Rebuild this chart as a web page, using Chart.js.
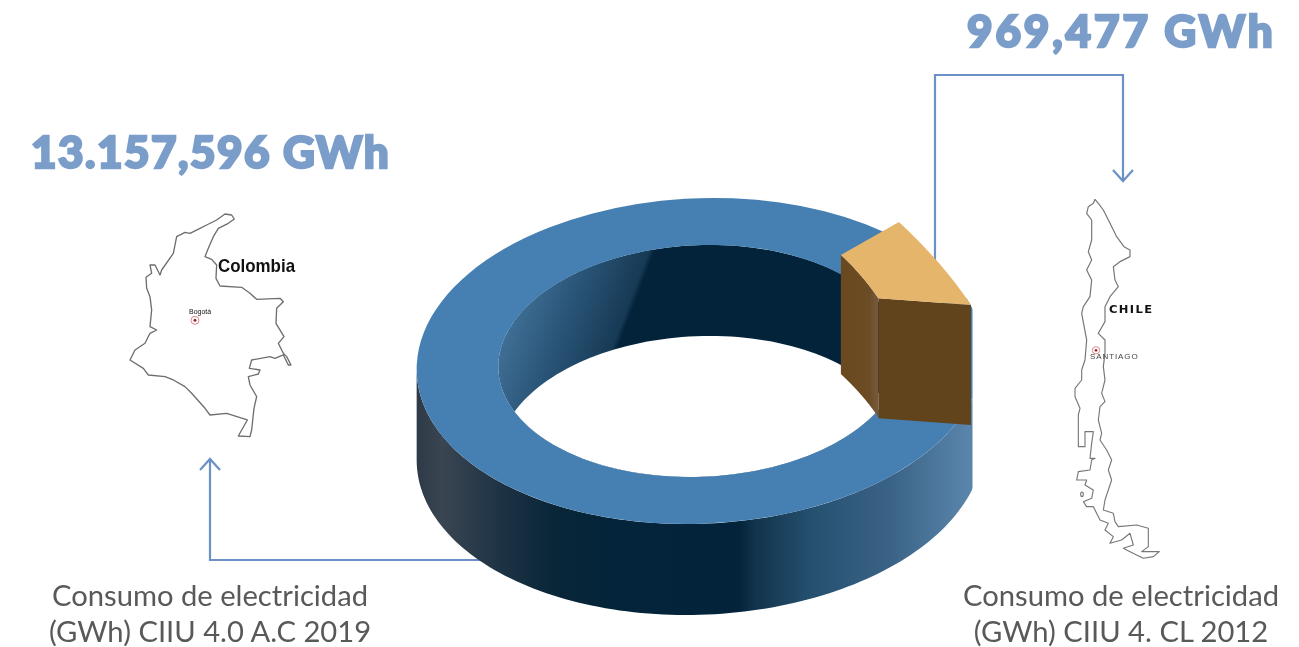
<!DOCTYPE html>
<html lang="es">
<head>
<meta charset="utf-8">
<title>Consumo de electricidad</title>
<script src="https://cdn.jsdelivr.net/npm/chart.js@4/dist/chart.umd.min.js"></script>
<style>
  html, body { margin: 0; background: #fff; overflow: hidden; }
  #stage { position: relative; width: 1299px; height: 647px; }
  #stage svg, #stage canvas { position: absolute; left: 0; top: 0; }
  .total, .caption, .tag { position: absolute; white-space: nowrap; }
  .total { font: 900 44px Lato, sans-serif; color: #7b9dc9; -webkit-text-stroke: 2.4px #7b9dc9; line-height: 50px; }
  .caption { font: 400 29.2px Lato, sans-serif; color: #595959; line-height: 36px; text-align: center; }
  .tag { color: #111; transform-origin: left top; }
</style>
</head>
<body>
<div id="stage">
  <svg width="1299" height="647" fill="none">
    <g stroke="#6b91c6" stroke-width="2.2">
      <polyline points="935,285 935,75 1123,75 1123,180"/>
      <polyline points="1113,170 1123,181 1133,170"/>
      <polyline points="490,560 210,560 210,459"/>
      <polyline points="200,470 210,459 220,470"/>
    </g>
    <g transform="translate(110 200) scale(0.3333)" stroke="#6e6e6e" stroke-width="4" stroke-linejoin="round">
      <polygon points="345,42 365,45 373,57 355,70 325,85 310,110 295,145 285,170 305,178 320,195 318,235 330,258 395,262 420,280 440,298 510,295 520,305 500,325 498,370 522,410 505,430 520,460 530,470 543,495 535,495 520,465 495,475 480,470 425,480 418,505 450,510 445,522 415,530 420,555 440,590 432,625 425,690 420,710 385,708 412,660 350,640 300,645 285,625 245,580 225,560 190,540 165,530 115,525 100,505 60,480 75,450 105,430 120,400 140,390 120,380 125,330 120,290 110,265 108,232 125,220 120,195 135,195 150,225 155,210 190,160 200,110 225,97 240,100 270,85 290,75 320,60"/>
      <circle cx="255" cy="361" r="12" stroke="#d98a8a" stroke-width="3"/>
      <circle cx="255" cy="361" r="4.5" fill="#a8202a" stroke="none"/>
    </g>
    <g transform="translate(1050 190) scale(0.3333)" stroke="#777" stroke-width="3.6" stroke-linejoin="round">
      <polyline points="135,28 145,40 160,60 180,100 200,140 222,170 240,180 240,200 210,215 190,230 195,270 205,290 180,320 165,350 165,395 145,430 165,450 165,490 160,530 165,570"/>
      <polyline points="95,540 105,510 110,450 95,370 100,350 120,320 125,270 110,240 125,210 115,185 125,150 125,90 110,70 115,50 130,40 135,28"/>
      <circle cx="138" cy="481" r="11" stroke="#d98a8a" stroke-width="3"/>
      <circle cx="138" cy="481" r="4" fill="#a8202a" stroke="none"/>
    </g>
    <g transform="translate(1050 370) scale(0.3333)" stroke="#777" stroke-width="3.4" stroke-linejoin="round">
      <polyline points="165,30 155,70 165,95 150,110 145,150 155,190 150,210 170,240 185,270 175,300 185,330 165,390 160,420 190,430 195,455 205,470 260,465 295,475 295,530 275,545 328,545 310,560 280,565 240,545 220,535 250,525 240,490 215,510 180,520 190,500 165,480 175,460 150,450 130,410 110,410 100,395 125,385 130,360 105,345 110,330 80,330 85,305 120,300 125,270 135,265 120,265 125,220 130,185 105,185 105,230 85,230 85,135 90,115 75,80 75,55 95,30 95,0"/>
      <ellipse cx="96" cy="373" rx="4" ry="7"/>
    </g>
  </svg>
  <canvas id="ringChart" width="1299" height="647"></canvas>
  <div class="total" style="left:967px;top:5px;letter-spacing:2.9px">969,477 GWh</div>
  <div class="total" style="left:31px;top:126px;letter-spacing:1.5px">13.157,596 GWh</div>
  <div class="caption" style="left:20px;top:577px;width:380px">Consumo de electricidad<br>(GWh) CIIU 4.0 A.C 2019</div>
  <div class="caption" style="left:931px;top:577px;width:380px">Consumo de electricidad<br>(GWh) CIIU 4. CL 2012</div>
  <div class="tag" style="left:218px;top:255px;font:bold 19px 'Liberation Sans',sans-serif;transform:scaleX(.89)">Colombia</div>
  <div class="tag" style="left:189px;top:308px;font:7px 'Liberation Sans',sans-serif">Bogotá</div>
  <div class="tag" style="left:1109px;top:304px;font:bold 10px 'DejaVu Sans',sans-serif;letter-spacing:1.2px;transform:scaleX(1.15)">CHILE</div>
  <div class="tag" style="left:1090px;top:352px;font:8px 'Liberation Sans',sans-serif;color:#444;letter-spacing:.9px">SANTIAGO</div>
</div>

<script>
const categories = ['Colombia 2019', 'Chile 2012'];
const consumptionGWh = [13157.596, 969.477];
const sliceColors = ['#4680b3', '#e4b56b'];

// the flat doughnut is laid over on its side: circle -> page matrices
const ringView = { xx: 283, xy: -14, yx: 0, yy: 163, ox: 700, oy: 361 };
const wedgeView = { xx: 228.2, xy: 45.8, yx: 88.3, yy: 175.2, ox: 778, oy: 291 };
const ringDepth = 91;
const wedgeDepth = 119;
const wedgeInner = 0.52;
const rightEdge = 972.5;

function toPage(view, angle, r) {
    const u = Math.cos(angle) * r, v = Math.sin(angle) * r;
    return [view.ox + view.xx * u + view.xy * v, view.oy + view.yx * u + view.yy * v];
}

function band(ctx, view, r, from, to, depth) {
    ctx.beginPath();
    for (let i = 0; i <= 120; i++) {
        const p = toPage(view, from + (to - from) * i / 120, r);
        ctx.lineTo(p[0], p[1]);
    }
    for (let i = 120; i >= 0; i--) {
        const p = toPage(view, from + (to - from) * i / 120, r);
        ctx.lineTo(p[0], p[1] + depth);
    }
    ctx.closePath();
}

function ellipse(ctx, view, r, shift) {
    ctx.beginPath();
    for (let i = 0; i < 180; i++) {
        const p = toPage(view, i / 180 * Math.PI * 2, r);
        ctx.lineTo(p[0], p[1] + shift);
    }
    ctx.closePath();
}

function gradient(ctx, x0, y0, x1, y1, stops) {
    const g = ctx.createLinearGradient(x0, y0, x1, y1);
    stops.forEach(s => g.addColorStop(s[0], s[1]));
    return g;
}

function drawArc(ctx, arc, view) {
    const R = arc.outerRadius;
    ctx.save();
    ctx.transform(view.xx / R, view.yx / R, view.xy / R, view.yy / R,
        view.ox - (view.xx * arc.x + view.xy * arc.y) / R,
        view.oy - (view.yx * arc.x + view.yy * arc.y) / R);
    arc.draw(ctx);
    ctx.restore();
}

const ringSolid = {
    id: 'ringSolid',
    beforeDatasetsDraw(chart) {
        const ctx = chart.ctx;
        const arcs = chart.getDatasetMeta(0).data;
        const wedge = arcs[1];
        const inner = arcs[0].innerRadius / arcs[0].outerRadius;

        ctx.save();
        ctx.beginPath();
        ctx.rect(0, 0, rightEdge, 647);
        ctx.clip();

        // outside wall, between the two side extremes of the ellipse
        const lean = Math.atan2(-ringView.xy, ringView.xx);
        band(ctx, ringView, 1, -lean, Math.PI - lean, ringDepth);
        ctx.fillStyle = gradient(ctx, 417, 0, 972, 0, [
            [0, '#2e3a47'], [0.045, '#3a4552'], [0.15, '#1d3345'], [0.24, '#0a2638'],
            [0.36, '#03243a'], [0.58, '#02233a'], [0.61, '#12344c'], [0.71, '#25506f'],
            [0.85, '#3a6286'], [1, '#5b86ac']
        ]);
        ctx.fill();

        // inside wall, seen through the hole
        ellipse(ctx, ringView, inner, 0);
        ctx.fillStyle = gradient(ctx, 510, 252, 636, 300, [
            [0, '#4a7ba3'], [0.55, '#2a5578'], [0.96, '#173a55'], [1, '#02233a']
        ]);
        ctx.fill();
        ctx.save();
        ellipse(ctx, ringView, inner, 0);
        ctx.clip();
        ellipse(ctx, ringView, inner, ringDepth);
        ctx.fillStyle = '#fff';
        ctx.fill();
        ctx.restore();

        drawArc(ctx, arcs[0], ringView);

        // raised slice: inner side, front, then the top
        band(ctx, wedgeView, wedgeInner, wedge.startAngle, wedge.endAngle, wedgeDepth);
        ctx.fillStyle = gradient(ctx, 843, 0, 876, 0, [[0, '#6a4920'], [0.8, '#6c4c24'], [1, '#735839']]);
        ctx.fill();
        const a = toPage(wedgeView, wedge.endAngle, wedgeInner);
        const b = toPage(wedgeView, wedge.endAngle, 1);
        ctx.beginPath();
        ctx.moveTo(a[0], a[1]);
        ctx.lineTo(b[0], b[1]);
        ctx.lineTo(b[0], b[1] + wedgeDepth + 1);
        ctx.lineTo(a[0], a[1] + wedgeDepth + 1);
        ctx.closePath();
        ctx.fillStyle = '#61431c';
        ctx.fill();

        wedge.innerRadius = wedge.outerRadius * wedgeInner;
        drawArc(ctx, wedge, wedgeView);

        ctx.restore();
        return false;
    }
};

new Chart(document.getElementById('ringChart'), {
    type: 'doughnut',
    data: {
        labels: categories,
        datasets: [{
            data: consumptionGWh,
            backgroundColor: sliceColors,
            borderWidth: 0
        }]
    },
    options: {
        responsive: false,
        animation: false,
        cutout: '71.2%',
        rotation: 67.35,
        plugins: {
            legend: { display: false },
            tooltip: { enabled: false }
        }
    },
    plugins: [ringSolid]
});
</script>
</body>
</html>
